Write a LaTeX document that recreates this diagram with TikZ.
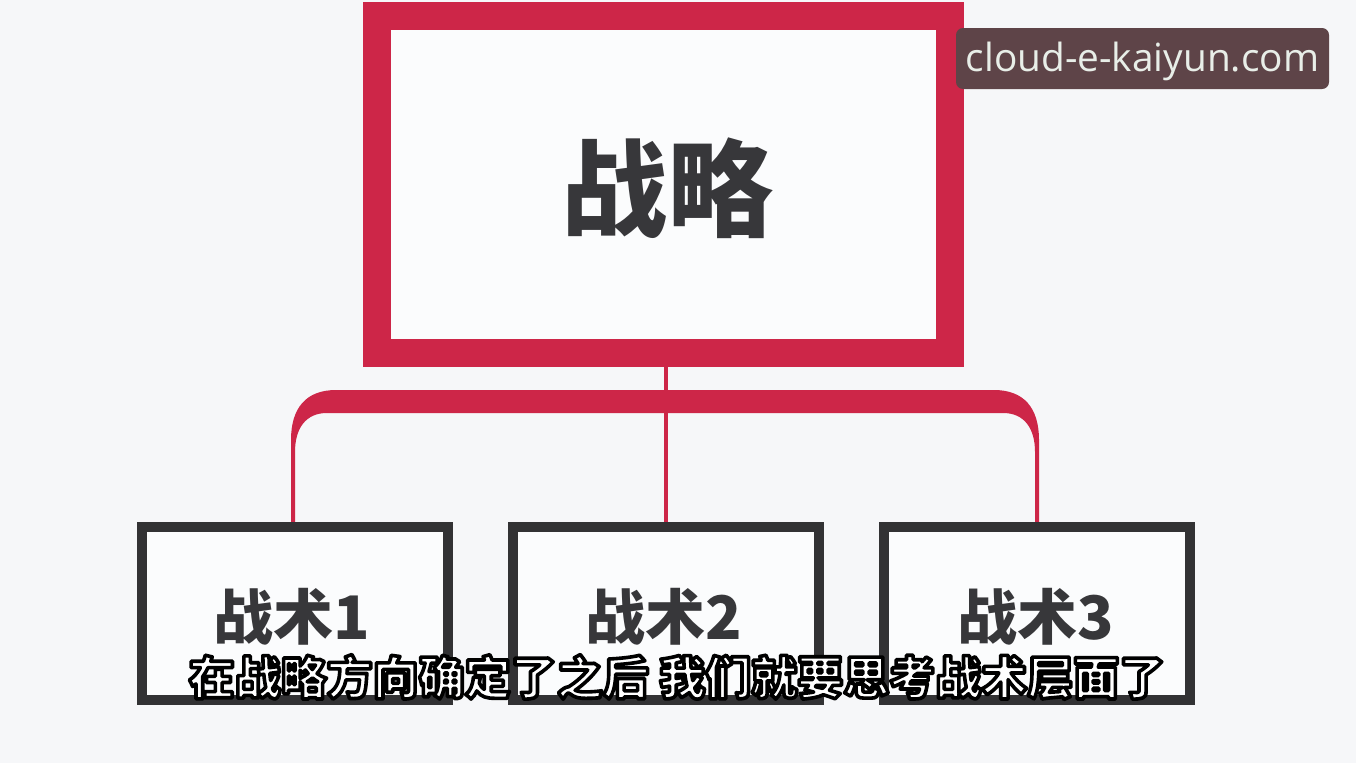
\documentclass[tikz,border=0pt]{standalone}
\usepackage{fontspec}
\newfontfamily\cjk{Noto Sans CJK SC}
\newfontfamily\wmfont{Open Sans}
\definecolor{bg}{RGB}{246,247,249}
\definecolor{crimson}{RGB}{205,38,72}
\definecolor{boxgray}{RGB}{50,50,52}
\definecolor{labelgray}{RGB}{55,55,58}
\definecolor{wmbg}{RGB}{94,68,72}
\definecolor{wmtext}{RGB}{232,238,232}
\tikzset{
  topbox/.style={draw=crimson, line width=28pt, fill=white!60!bg, rectangle,
    minimum width=573pt, minimum height=337pt, inner sep=0pt},
  tacbox/.style={draw=boxgray, line width=10pt, fill=white!60!bg, rectangle,
    minimum width=306pt, minimum height=173pt, inner sep=0pt},
  biglabel/.style={font=\cjk\bfseries\fontsize{106}{110}\selectfont, text=labelgray},
  taclabel/.style={font=\cjk\bfseries\fontsize{60}{64}\selectfont, text=labelgray},
  link/.style={draw=crimson, line width=4pt},
}
\begin{document}
\begin{tikzpicture}[x=1pt,y=-1pt]
\useasboundingbox (0,0) rectangle (1356,763);
\fill[bg] (0,0) rectangle (1356,763);
% top box
\node[topbox] (strategy) at (663,184.5) {};
\node[biglabel] (strategylabel) at (667,188) {战略};
% bracket bar
\fill[crimson] (291,523) -- (291,440) .. controls (291,408) and (306,390) .. (336,390)
  -- (994,390) .. controls (1024,390) and (1039,408) .. (1039,440)
  -- (1039,523) -- (1035,523) -- (1035,452) .. controls (1035,428) and (1024,413) .. (1003,413)
  -- (327,413) .. controls (306,413) and (295,428) .. (295,452) -- (295,523) -- cycle;
% tactic boxes
\node[tacbox] (t1) at (295,613.5) {};
\node[tacbox] (t2) at (665.5,613.5) {};
\node[tacbox] (t3) at (1036.5,613.5) {};
\draw[link] (strategy.south -| t2.north) -- (t2.north);
\node[taclabel] (l1) at (292,617) {战术1};
\node[taclabel] (l2) at (664,617) {战术2};
\node[taclabel] (l3) at (1036,617) {战术3};
% subtitle
\node[font=\cjk\bfseries\fontsize{46}{50}\selectfont, text=white, inner sep=0pt] (subtitle) at (677,677)
  {\special{pdf:literal direct 0 G 3.6 w 1 j 2 Tr}在战略方向确定了之后 我们就要思考战术层面了\special{pdf:literal direct 0 Tr}};
% watermark
\fill[wmbg] (956,28) [rounded corners=7pt] rectangle (1329,89);
\node[font=\wmfont\fontsize{38.8}{42}\selectfont, text=wmtext, inner sep=0pt] (wm) at (1142.5,61) {cloud-e-kaiyun.com};
\end{tikzpicture}
\end{document}
